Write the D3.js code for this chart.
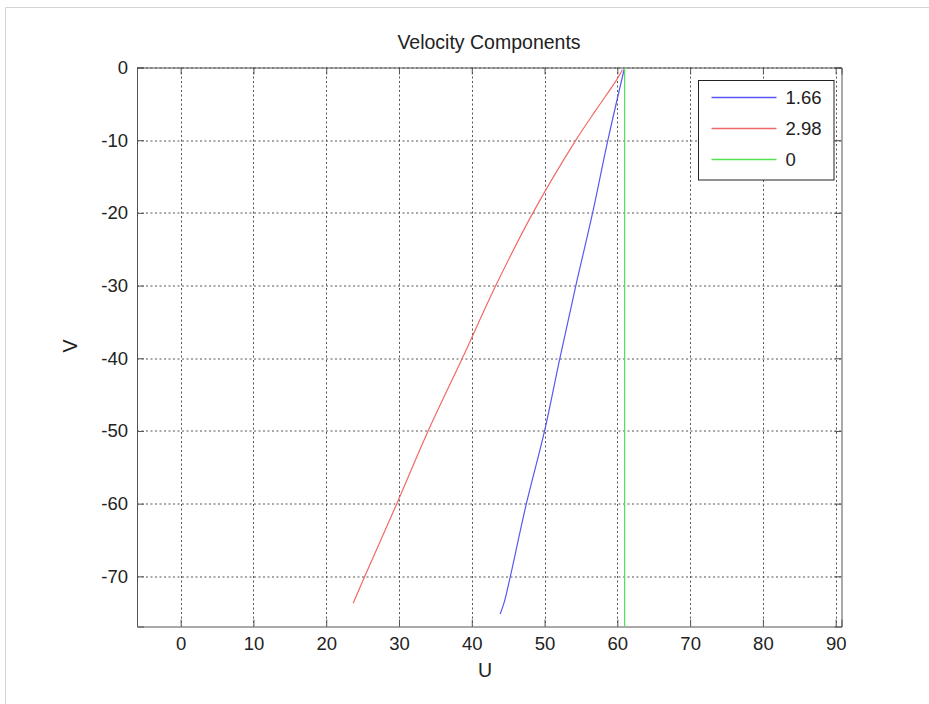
<!DOCTYPE html>
<html>
<head>
<meta charset="utf-8">
<script src="https://cdn.jsdelivr.net/npm/d3@7"></script>
<style>
  body { margin: 0; background: #fff; }
  text { font-family: "Liberation Sans", Arial, sans-serif; fill: #222; }
</style>
</head>
<body>
<div id="chart"></div>
<script>
// Velocity components chart

// Data (U on x, V on y)
var seriesNames = ["1.66", "2.98", "0"];
var seriesColors = ["#5858f2", "#f06a6a", "#52e252"];

var blueU = [61.0, 58.7, 56.6, 54.3, 52.1, 50.0, 47.5, 45.3, 44.5, 43.9];
var blueV = [0, -10, -20, -30, -40, -50, -60, -70, -73.4, -75.2];

var redU = [60.7, 59.9, 57.1, 54.3, 48.4, 43.3, 38.7, 34.0, 29.7, 25.3, 23.7];
var redV = [-0.3, -1.7, -5.8, -10, -20, -30, -40, -50, -60, -70, -73.7];

var greenU = [61, 61];
var greenV = [0, -77];

var xTicks = [0, 10, 20, 30, 40, 50, 60, 70, 80, 90];
var yTicks = [-70, -60, -50, -40, -30, -20, -10, 0];

// SVG size and margins
var svgWidth = 929;
var svgHeight = 704;
var chartMarg = { top: 67.5, bottom: 77.5, left: 137, right: 87.5 };
var chartWidth = svgWidth - chartMarg.left - chartMarg.right;
var chartHeight = svgHeight - chartMarg.top - chartMarg.bottom;

var svg = d3.select("#chart")
    .append("svg")
    .attr("width", svgWidth)
    .attr("height", svgHeight);

// faint figure frame
svg.append("path")
    .attr("d", "M5.5,704 L5.5,7.5 L929,7.5")
    .attr("fill", "none")
    .attr("stroke", "#d4d4d4");

var chartGroup = svg.append("g")
    .attr("transform", `translate(${chartMarg.left}, ${chartMarg.top})`);

// scales
var xScale = d3.scaleLinear().domain([-6, 90.8]).range([0, chartWidth]);
var yScale = d3.scaleLinear().domain([-76.9, 0]).range([chartHeight, 0]);

// grid lines
chartGroup.selectAll(".xgrid")
    .data(xTicks)
    .enter()
    .append("line")
    .attr("x1", d => Math.round(xScale(d)) + 0.5)
    .attr("x2", d => Math.round(xScale(d)) + 0.5)
    .attr("y1", 0)
    .attr("y2", chartHeight)
    .attr("stroke", "#555")
    .attr("stroke-dasharray", "2,2.5");

chartGroup.selectAll(".ygrid")
    .data(yTicks)
    .enter()
    .append("line")
    .attr("y1", d => Math.round(yScale(d)) + 0.5)
    .attr("y2", d => Math.round(yScale(d)) + 0.5)
    .attr("x1", 0)
    .attr("x2", chartWidth)
    .attr("stroke", "#555")
    .attr("stroke-dasharray", "2,2.5");

// axes, ticks pointing inward like matlab; plain hyphen for negatives
var fmt = d => String(d);
var bottomAxis = d3.axisBottom(xScale).tickValues(xTicks).tickSize(-7).tickPadding(10).tickFormat(fmt);
var topAxis = d3.axisTop(xScale).tickValues(xTicks).tickSize(-7).tickFormat("");
var leftAxis = d3.axisLeft(yScale).tickValues(yTicks).tickSize(-7).tickPadding(9).tickFormat(fmt);
var rightAxis = d3.axisRight(yScale).tickValues(yTicks).tickSize(-7).tickFormat("");

chartGroup.append("g").attr("class", "axis")
    .attr("transform", `translate(0, ${chartHeight})`).call(bottomAxis);
chartGroup.append("g").attr("class", "axis").call(topAxis);
chartGroup.append("g").attr("class", "axis").call(leftAxis);
chartGroup.append("g").attr("class", "axis")
    .attr("transform", `translate(${chartWidth}, 0)`).call(rightAxis);

chartGroup.selectAll(".axis path, .axis line").attr("stroke", "#555");
chartGroup.selectAll(".axis text")
    .style("font-size", "18.5px")
    .attr("fill", "#222");

// clip the lines to the plot box
chartGroup.append("clipPath").attr("id", "plotClip")
    .append("rect").attr("width", chartWidth).attr("height", chartHeight);

var lineGen = d3.line()
    .x(d => xScale(d[0]))
    .y(d => yScale(d[1]))
    .curve(d3.curveCatmullRom);

var series = [
    { name: seriesNames[0], color: seriesColors[0], pts: d3.zip(blueU, blueV) },
    { name: seriesNames[1], color: seriesColors[1], pts: d3.zip(redU, redV) },
    { name: seriesNames[2], color: seriesColors[2], pts: d3.zip(greenU, greenV) }
];

chartGroup.append("g")
    .attr("clip-path", "url(#plotClip)")
    .selectAll(".seriesLine")
    .data(series)
    .enter()
    .append("path")
    .attr("class", "seriesLine")
    .attr("d", d => lineGen(d.pts))
    .attr("fill", "none")
    .attr("stroke", d => d.color)
    .attr("stroke-width", 1.2);

// legend
var legend = svg.append("g").attr("transform", "translate(698.5, 80.5)");
legend.append("rect")
    .attr("width", 135.5)
    .attr("height", 99.5)
    .attr("fill", "#fff")
    .attr("stroke", "#222");

var legendRows = legend.selectAll(".legendRow")
    .data(series)
    .enter()
    .append("g")
    .attr("class", "legendRow")
    .attr("transform", (d, i) => `translate(0, ${17 + i * 31})`);
legendRows.append("line")
    .attr("x1", 13).attr("x2", 78)
    .attr("y1", 0).attr("y2", 0)
    .attr("stroke", d => d.color)
    .attr("stroke-width", 1.4);
legendRows.append("text")
    .attr("x", 87)
    .attr("y", 6.5)
    .style("font-size", "18.5px")
    .text(d => d.name);

// titles
svg.append("text")
    .attr("x", 489)
    .attr("y", 49)
    .attr("text-anchor", "middle")
    .style("font-size", "19.5px")
    .text("Velocity Components");

svg.append("text")
    .attr("x", 485)
    .attr("y", 677)
    .attr("text-anchor", "middle")
    .style("font-size", "19.5px")
    .text("U");

svg.append("text")
    .attr("transform", "translate(77, 346) rotate(-90)")
    .attr("text-anchor", "middle")
    .style("font-size", "19.5px")
    .text("V");
</script>
</body>
</html>
